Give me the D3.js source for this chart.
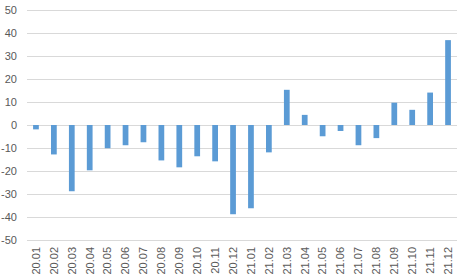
<!DOCTYPE html>
<html lang="en">
    <head>
        <meta charset="utf-8"/>
        <script src="https://d3js.org/d3.v7.min.js"></script>
        <style>
            body { margin: 0; background: #fff; }
        </style>
    </head>
    <body>
        <div id="chart"></div>
    </body>
    <script>
        var months = ["20.01", "20.02", "20.03", "20.04", "20.05", "20.06", "20.07", "20.08",
                      "20.09", "20.10", "20.11", "20.12", "21.01", "21.02", "21.03", "21.04",
                      "21.05", "21.06", "21.07", "21.08", "21.09", "21.10", "21.11", "21.12"];
        var values = [-1.9, -12.8, -28.8, -19.7, -10.1, -8.8, -7.5, -15.4,
                      -18.4, -13.6, -15.8, -38.8, -36.2, -11.9, 15.3, 4.4,
                      -4.9, -2.6, -8.8, -5.7, 9.7, 6.6, 14.1, 36.9];
        var yTicks = [-50, -40, -30, -20, -10, 0, 10, 20, 30, 40, 50];

        var margin = {top: 10, right: 4, bottom: 40, left: 27};
        var width = 461 - margin.left - margin.right;
        var height = 280 - margin.top - margin.bottom;

        var svg = d3.select("#chart")
            .append("svg")
                .attr("width", 461)
                .attr("height", 280)
            .append("g")
                .attr("transform", "translate(" + margin.left + "," + margin.top + ")");

        var x = d3.scaleBand()
            .domain(months)
            .range([0, width])
            .paddingInner(0.68)
            .paddingOuter(0.34);

        var y = d3.scaleLinear()
            .domain([-50, 50])
            .range([height, 0]);

        // gridlines
        svg.append("g")
            .selectAll("line")
            .data(yTicks)
            .enter()
            .append("line")
            .attr("x1", 0)
            .attr("x2", width)
            .attr("y1", function (d) { return Math.round(y(d)) + 0.5; })
            .attr("y2", function (d) { return Math.round(y(d)) + 0.5; })
            .attr("stroke", "#d9d9d9")
            .attr("stroke-width", 1);

        // y labels
        svg.append("g")
            .selectAll("text")
            .data(yTicks)
            .enter()
            .append("text")
            .attr("x", -10)
            .attr("y", function (d) { return y(d); })
            .attr("dy", "0.35em")
            .attr("text-anchor", "end")
            .style("font-family", "Liberation Sans, Arial, sans-serif")
            .style("font-size", "11px")
            .style("fill", "#595959")
            .text(function (d) { return d; });

        svg.append("g")
            .selectAll("rect")
            .data(values)
            .enter()
            .append("rect")
            .attr("x", function (d, i) { return x(months[i]); })
            .attr("width", x.bandwidth())
            .attr("y", function (d) { return y(Math.max(0, d)); })
            .attr("height", function (d) { return Math.abs(y(d) - y(0)); })
            .style("fill", "#5b9bd5");

        // x labels, rotated
        svg.append("g")
            .selectAll("text")
            .data(months)
            .enter()
            .append("text")
            .attr("transform", function (d) {
                return "translate(" + (x(d) + x.bandwidth() / 2) + "," + (height + 7) + ") rotate(-90)";
            })
            .attr("dy", "0.35em")
            .attr("text-anchor", "end")
            .style("font-family", "Liberation Sans, Arial, sans-serif")
            .style("font-size", "11px")
            .style("fill", "#595959")
            .text(function (d) { return d; });
    </script>
</html>
